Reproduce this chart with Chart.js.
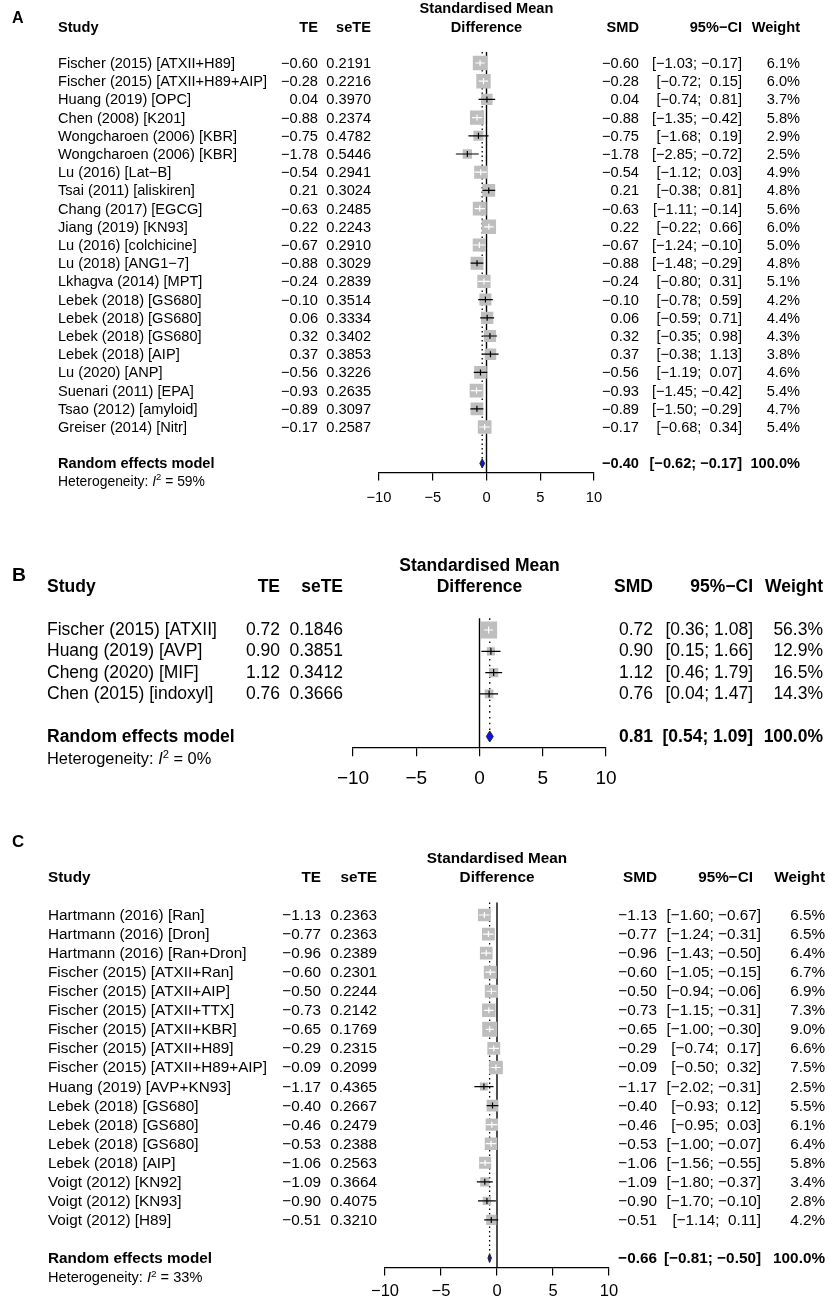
<!DOCTYPE html>
<html>
<head>
<meta charset="utf-8">
<script src="https://cdn.jsdelivr.net/npm/chart.js@4.4.1/dist/chart.umd.min.js"></script>
<style>
  body { margin: 0; background: #fff; width: 829px; height: 1304px; overflow: hidden; }
  .panel { position: absolute; left: 0; width: 829px; }
  .panel canvas { position: absolute; left: 0; top: 0; }
  .t { position: absolute; white-space: pre; line-height: 1; color: #000;
       font-family: "Liberation Sans", Arial, Helvetica, sans-serif; }
  .b { font-weight: bold; }
  .sup { font-size: 0.68em; position: relative; top: -0.55em; }
</style>
</head>
<body>
<div id="pA" class="panel"></div>
<div id="pB" class="panel"></div>
<div id="pC" class="panel"></div>
<script>
// ---- data, panel A ----
const studiesA = ['Fischer (2015) [ATXII+H89]', 'Fischer (2015) [ATXII+H89+AIP]', 'Huang (2019) [OPC]',
  'Chen (2008) [K201]', 'Wongcharoen (2006) [KBR]', 'Wongcharoen (2006) [KBR]', 'Lu (2016) [Lat\u2212B]',
  'Tsai (2011) [aliskiren]', 'Chang (2017) [EGCG]', 'Jiang (2019) [KN93]', 'Lu (2016) [colchicine]',
  'Lu (2018) [ANG1\u22127]', 'Lkhagva (2014) [MPT]', 'Lebek (2018) [GS680]', 'Lebek (2018) [GS680]',
  'Lebek (2018) [GS680]', 'Lebek (2018) [AIP]', 'Lu (2020) [ANP]', 'Suenari (2011) [EPA]',
  'Tsao (2012) [amyloid]', 'Greiser (2014) [Nitr]'];
const teA = [-0.60, -0.28, 0.04, -0.88, -0.75, -1.78, -0.54, 0.21, -0.63, 0.22, -0.67, -0.88, -0.24,
  -0.10, 0.06, 0.32, 0.37, -0.56, -0.93, -0.89, -0.17];
const seteA = [0.2191, 0.2216, 0.3970, 0.2374, 0.4782, 0.5446, 0.2941, 0.3024, 0.2485, 0.2243, 0.2910,
  0.3029, 0.2839, 0.3514, 0.3334, 0.3402, 0.3853, 0.3226, 0.2635, 0.3097, 0.2587];
const lowerA = [-1.03, -0.72, -0.74, -1.35, -1.68, -2.85, -1.12, -0.38, -1.11, -0.22, -1.24, -1.48, -0.80,
  -0.78, -0.59, -0.35, -0.38, -1.19, -1.45, -1.50, -0.68];
const upperA = [-0.17, 0.15, 0.81, -0.42, 0.19, -0.72, 0.03, 0.81, -0.14, 0.66, -0.10, -0.29, 0.31,
  0.59, 0.71, 0.98, 1.13, 0.07, -0.42, -0.29, 0.34];
const weightA = [6.1, 6.0, 3.7, 5.8, 2.9, 2.5, 4.9, 4.8, 5.6, 6.0, 5.0, 4.8, 5.1, 4.2, 4.4, 4.3, 3.8,
  4.6, 5.4, 4.7, 5.4];
const pooledA = [-0.40, -0.62, -0.17];
const i2A = 59;

// ---- data, panel B ----
const studiesB = ['Fischer (2015) [ATXII]', 'Huang (2019) [AVP]', 'Cheng (2020) [MIF]', 'Chen (2015) [indoxyl]'];
const teB = [0.72, 0.90, 1.12, 0.76];
const seteB = [0.1846, 0.3851, 0.3412, 0.3666];
const lowerB = [0.36, 0.15, 0.46, 0.04];
const upperB = [1.08, 1.66, 1.79, 1.47];
const weightB = [56.3, 12.9, 16.5, 14.3];
const pooledB = [0.81, 0.54, 1.09];
const i2B = 0;

// ---- data, panel C ----
const studiesC = ['Hartmann (2016) [Ran]', 'Hartmann (2016) [Dron]', 'Hartmann (2016) [Ran+Dron]',
  'Fischer (2015) [ATXII+Ran]', 'Fischer (2015) [ATXII+AIP]', 'Fischer (2015) [ATXII+TTX]',
  'Fischer (2015) [ATXII+KBR]', 'Fischer (2015) [ATXII+H89]', 'Fischer (2015) [ATXII+H89+AIP]',
  'Huang (2019) [AVP+KN93]', 'Lebek (2018) [GS680]', 'Lebek (2018) [GS680]', 'Lebek (2018) [GS680]',
  'Lebek (2018) [AIP]', 'Voigt (2012) [KN92]', 'Voigt (2012) [KN93]', 'Voigt (2012) [H89]'];
const teC = [-1.13, -0.77, -0.96, -0.60, -0.50, -0.73, -0.65, -0.29, -0.09, -1.17, -0.40, -0.46, -0.53,
  -1.06, -1.09, -0.90, -0.51];
const seteC = [0.2363, 0.2363, 0.2389, 0.2301, 0.2244, 0.2142, 0.1769, 0.2315, 0.2099, 0.4365, 0.2667,
  0.2479, 0.2388, 0.2563, 0.3664, 0.4075, 0.3210];
const lowerC = [-1.60, -1.24, -1.43, -1.05, -0.94, -1.15, -1.00, -0.74, -0.50, -2.02, -0.93, -0.95, -1.00,
  -1.56, -1.80, -1.70, -1.14];
const upperC = [-0.67, -0.31, -0.50, -0.15, -0.06, -0.31, -0.30, 0.17, 0.32, -0.31, 0.12, 0.03, -0.07,
  -0.55, -0.37, -0.10, 0.11];
const weightC = [6.5, 6.5, 6.4, 6.7, 6.9, 7.3, 9.0, 6.6, 7.5, 2.5, 5.5, 6.1, 6.4, 5.8, 3.4, 2.8, 4.2];
const pooledC = [-0.66, -0.81, -0.50];
const i2C = 33;

const xTicks = [-10, -5, 0, 5, 10];

// ---- layout of each panel (pixels) ----
const FONT = '"Liberation Sans", Arial, Helvetica, sans-serif';
const layoutA = { id: 'pA', letter: 'A', top: 0, height: 530, letterX: 12, letterY: 17,
  y0: 63, dy: 18.2, ymin: -0.6, ymax: 22.5, xLeft: 379, xRight: 594,
  fs: 14.6, fsHet: 13.9, fsTick: 14.7, tickLen: 8, tickPad: 9, axisH: 34, boxK: 5.87, diaH: 4.5, tickH: 3,
  dash: [1.3, 3.2], cols: { study: 58, te: 318, sete: 371, smd: 639, ciHead: 742, ci: 742, w: 800 } };
const layoutB = { id: 'pB', letter: 'B', top: 530, height: 270, letterX: 12, letterY: 575,
  y0: 630, dy: 21.3, ymin: -0.55, ymax: 5.5, xLeft: 353, xRight: 606,
  fs: 17.5, fsHet: 16.4, fsTick: 19, tickLen: 9, tickPad: 11, axisH: 42, boxK: 2.27, diaH: 5.5, tickH: 3.5,
  dash: [1.6, 4.2], cols: { study: 47, te: 280, sete: 343, smd: 653, ciHead: 753, ci: 753, w: 823 } };
const layoutC = { id: 'pC', letter: 'C', top: 800, height: 504, letterX: 12, letterY: 842,
  y0: 915, dy: 19.06, ymin: -0.65, ymax: 18.5, xLeft: 385, xRight: 609,
  fs: 15.3, fsHet: 14.6, fsTick: 16.5, tickLen: 8, tickPad: 6, axisH: 30, boxK: 5.0, diaH: 4.5, tickH: 3,
  dash: [1.3, 3.2], cols: { study: 48, te: 321, sete: 377, smd: 657, ciHead: 753, ci: 761, w: 825 } };

function fmt(v, d) { return (v < 0 ? '\u2212' : '') + Math.abs(v).toFixed(d); }
function padTo(s, n) { while (s.length < n) s = ' ' + s; return s; }
function ciStrings(lo, up) {
  const L = lo.map(v => fmt(v, 2)), U = up.map(v => fmt(v, 2));
  const wl = Math.max(...L.map(s => s.length)), wu = Math.max(...U.map(s => s.length));
  return L.map((s, i) => '[' + padTo(s, wl) + '; ' + padTo(U[i], wu) + ']');
}

// reference lines, CI lines and the pooled diamond
const forestPlugin = {
  id: 'forest',
  beforeDatasetsDraw(chart, args, o) {
    const { ctx, chartArea: a, scales: { x, y } } = chart;
    ctx.save();
    ctx.strokeStyle = '#000';
    ctx.lineWidth = 1.4;
    const x0 = x.getPixelForValue(0);
    ctx.beginPath(); ctx.moveTo(x0, a.top); ctx.lineTo(x0, a.bottom); ctx.stroke();
    const xs = x.getPixelForValue(o.pooled[0]);
    ctx.lineWidth = 1.3;
    ctx.setLineDash(o.dash);
    ctx.beginPath(); ctx.moveTo(xs, a.top); ctx.lineTo(xs, y.getPixelForValue(o.sumRow) - o.diaH); ctx.stroke();
    ctx.restore();
  },
  afterDatasetsDraw(chart, args, o) {
    const { ctx, scales: { x, y } } = chart;
    ctx.save();
    ctx.lineWidth = 1.2;
    o.te.forEach((v, i) => {
      const yy = y.getPixelForValue(i);
      const xc = x.getPixelForValue(v), xl = x.getPixelForValue(o.lower[i]), xu = x.getPixelForValue(o.upper[i]);
      const half = o.boxK * Math.sqrt(o.weight[i]) / 2;
      const inside = xl >= xc - half && xu <= xc + half;
      ctx.strokeStyle = inside ? '#fff' : '#000';
      ctx.beginPath();
      ctx.moveTo(xl, yy); ctx.lineTo(xu, yy);
      ctx.moveTo(xc, yy - o.tickH); ctx.lineTo(xc, yy + o.tickH);
      ctx.stroke();
    });
    const ys = y.getPixelForValue(o.sumRow);
    const pm = x.getPixelForValue(o.pooled[0]), pl = x.getPixelForValue(o.pooled[1]), pu = x.getPixelForValue(o.pooled[2]);
    ctx.beginPath();
    ctx.moveTo(pl, ys); ctx.lineTo(pm, ys - o.diaH); ctx.lineTo(pu, ys); ctx.lineTo(pm, ys + o.diaH);
    ctx.closePath();
    ctx.fillStyle = '#0a14e6';
    ctx.fill();
    ctx.strokeStyle = '#222';
    ctx.lineWidth = 1;
    ctx.stroke();
    ctx.restore();
  }
};

function forestPanel(p, d) {
  const box = document.getElementById(p.id);
  box.style.top = p.top + 'px';
  box.style.height = p.height + 'px';
  const cv = document.createElement('canvas');
  cv.width = 829; cv.height = p.height;
  box.appendChild(cv);

  const n = d.studies.length;
  const sumRow = n + 1;
  const local = i => p.y0 - p.top + i * p.dy;
  const padTop = local(p.ymin);
  const padBottom = p.height - local(p.ymax) - p.axisH;

  const chart = new Chart(cv, {
    type: 'scatter',
    data: {
      datasets: [{
        data: d.te.map((v, i) => ({ x: v, y: i })),
        pointStyle: 'rect',
        pointRadius: d.weight.map(w => p.boxK * Math.sqrt(w) / Math.SQRT2),
        pointBackgroundColor: '#bebebe',
        pointBorderWidth: 0,
        pointBorderColor: 'rgba(0,0,0,0)'
      }]
    },
    options: {
      responsive: false,
      animation: false,
      events: [],
      layout: { padding: { left: p.xLeft, right: 829 - p.xRight, top: padTop, bottom: padBottom } },
      plugins: {
        legend: { display: false },
        tooltip: { enabled: false },
        forest: { te: d.te, lower: d.lower, upper: d.upper, weight: d.weight, pooled: d.pooled,
          sumRow: sumRow, boxK: p.boxK, diaH: p.diaH, tickH: p.tickH, dash: p.dash }
      },
      scales: {
        x: {
          type: 'linear', min: -10, max: 10,
          afterBuildTicks: s => { s.ticks = xTicks.map(v => ({ value: v })); },
          afterFit: s => { s.height = p.axisH; },
          ticks: { color: '#000', font: { family: FONT, size: p.fsTick }, padding: p.tickPad,
            maxRotation: 0, autoSkip: false, callback: v => fmt(v, 0) },
          grid: { drawOnChartArea: false, drawTicks: true, tickLength: p.tickLen, color: '#000', lineWidth: 1.2 },
          border: { display: true, color: '#000', width: 1.2 }
        },
        y: { type: 'linear', display: false, reverse: true, min: p.ymin, max: p.ymax }
      }
    },
    plugins: [forestPlugin]
  });

  const sx = chart.scales.x, sy = chart.scales.y;
  function put(html, x, yc, align, size, bold) {
    const el = document.createElement('div');
    el.className = 't' + (bold ? ' b' : '');
    el.innerHTML = html;
    el.style.fontSize = size + 'px';
    el.style.left = x + 'px';
    el.style.top = yc + 'px';
    const tx = align === 'right' ? '-100%' : align === 'center' ? '-50%' : '0';
    el.style.transform = 'translate(' + tx + ',-50%)';
    box.appendChild(el);
  }
  const c = p.cols;
  const x0 = sx.getPixelForValue(0);

  put(p.letter, p.letterX, p.letterY - p.top, 'left', p.fs * 1.1, true);
  // header
  const h1 = sy.getPixelForValue(-3), h2 = sy.getPixelForValue(-2);
  put('Standardised Mean', x0, h1, 'center', p.fs, true);
  put('Difference', x0, h2, 'center', p.fs, true);
  put('Study', c.study, h2, 'left', p.fs, true);
  put('TE', c.te, h2, 'right', p.fs, true);
  put('seTE', c.sete, h2, 'right', p.fs, true);
  put('SMD', c.smd, h2, 'right', p.fs, true);
  put('95%\u2212CI', c.ciHead, h2, 'right', p.fs, true);
  put('Weight', c.w, h2, 'right', p.fs, true);

  const ci = ciStrings(d.lower, d.upper);
  d.studies.forEach((s, i) => {
    const yy = sy.getPixelForValue(i);
    put(s, c.study, yy, 'left', p.fs);
    put(fmt(d.te[i], 2), c.te, yy, 'right', p.fs);
    put(d.sete[i].toFixed(4), c.sete, yy, 'right', p.fs);
    put(fmt(d.te[i], 2), c.smd, yy, 'right', p.fs);
    put(ci[i], c.ci, yy, 'right', p.fs);
    put(d.weight[i].toFixed(1) + '%', c.w, yy, 'right', p.fs);
  });

  const ysum = sy.getPixelForValue(sumRow);
  put('Random effects model', c.study, ysum, 'left', p.fs, true);
  put(fmt(d.pooled[0], 2), c.smd, ysum, 'right', p.fs, true);
  put('[' + fmt(d.pooled[1], 2) + '; ' + fmt(d.pooled[2], 2) + ']', c.ci, ysum, 'right', p.fs, true);
  put('100.0%', c.w, ysum, 'right', p.fs, true);
  put('Heterogeneity: <i>I</i><span class="sup">2</span> = ' + d.i2 + '%', c.study,
      sy.getPixelForValue(sumRow + 1), 'left', p.fsHet);
  return chart;
}

forestPanel(layoutA, { studies: studiesA, te: teA, sete: seteA, lower: lowerA, upper: upperA,
  weight: weightA, pooled: pooledA, i2: i2A });
forestPanel(layoutB, { studies: studiesB, te: teB, sete: seteB, lower: lowerB, upper: upperB,
  weight: weightB, pooled: pooledB, i2: i2B });
forestPanel(layoutC, { studies: studiesC, te: teC, sete: seteC, lower: lowerC, upper: upperC,
  weight: weightC, pooled: pooledC, i2: i2C });
</script>
</body>
</html>
